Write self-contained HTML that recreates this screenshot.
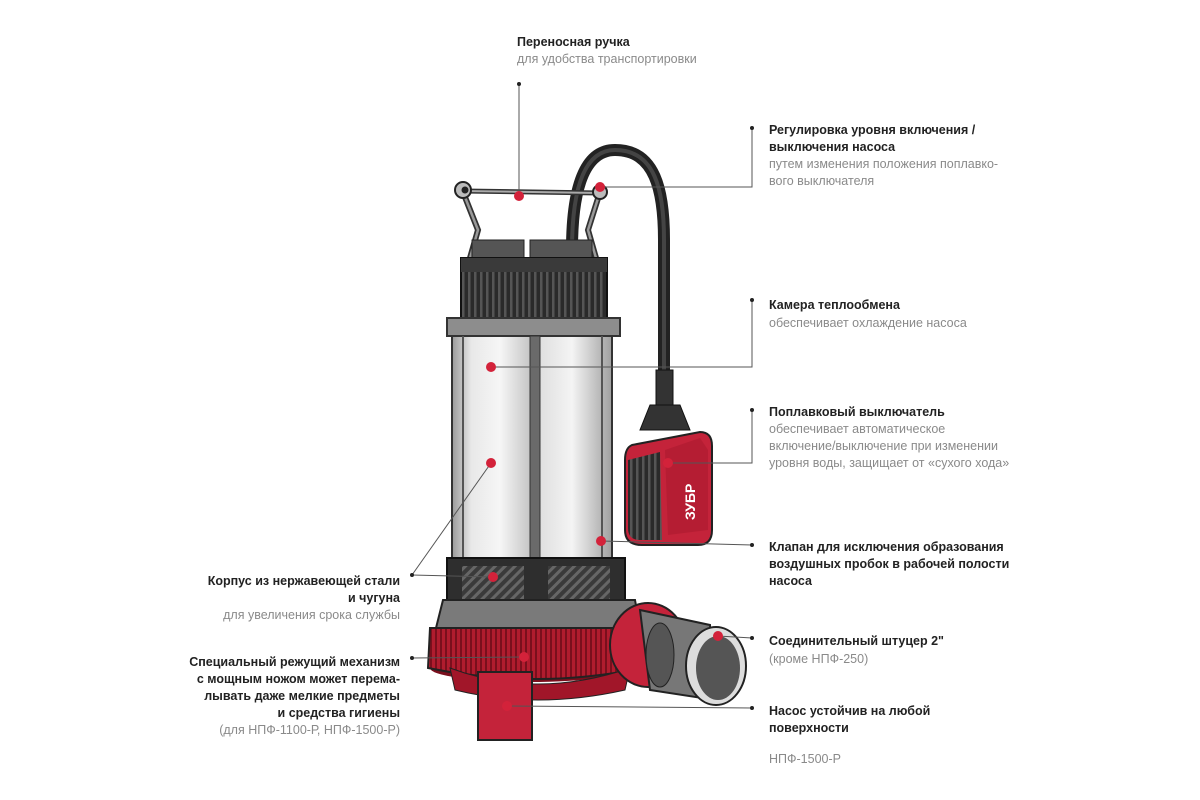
<!DOCTYPE html>
<html><head><meta charset="utf-8"><style>
html,body{margin:0;padding:0;background:#fff;}
svg{display:block}
text{font-family:"Liberation Sans","DejaVu Sans",sans-serif;font-size:12.5px}
.b{font-weight:bold;fill:#222}
.g{fill:#8a8a8a}
</style></head><body>
<svg width="1200" height="800" viewBox="0 0 1200 800" xmlns="http://www.w3.org/2000/svg">
<defs>
<linearGradient id="steel" x1="0" x2="1">
<stop offset="0" stop-color="#9a9a9a"/><stop offset="0.12" stop-color="#e8e8e8"/><stop offset="0.3" stop-color="#f6f6f6"/><stop offset="0.48" stop-color="#c8c8c8"/><stop offset="0.52" stop-color="#dcdcdc"/><stop offset="0.75" stop-color="#f4f4f4"/><stop offset="1" stop-color="#a0a0a0"/>
</linearGradient>
<pattern id="hatch" width="7" height="7" patternUnits="userSpaceOnUse" patternTransform="rotate(45)">
<rect width="7" height="7" fill="#3a3a3a"/><rect width="3" height="7" fill="#666"/></pattern>
<pattern id="ribs" width="6" height="10" patternUnits="userSpaceOnUse">
<rect width="6" height="10" fill="#2a2a2a"/><rect width="2.5" height="10" fill="#555"/></pattern>
<pattern id="redribs" width="5" height="10" patternUnits="userSpaceOnUse">
<rect width="5" height="10" fill="#b01c2e"/><rect width="2" height="10" fill="#7a0f1d"/></pattern>
</defs>

<!-- cable -->
<path d="M572 250 C572 200 580 150 615 150 C655 150 664 190 664 240 L664 380" fill="none" stroke="#222" stroke-width="12"/>
<path d="M572 250 C572 200 580 150 615 150 C655 150 664 190 664 240 L664 380" fill="none" stroke="#444" stroke-width="4"/>
<rect x="656" y="370" width="17" height="40" fill="#333" stroke="#111"/>
<path d="M650 405 L680 405 L690 430 L640 430 Z" fill="#333" stroke="#111"/>
<!-- float -->
<path d="M632 445 L700 432 Q712 432 712 446 L712 530 Q712 545 698 545 L642 545 Q625 545 625 530 L625 460 Q625 448 632 445Z" fill="#c4233a" stroke="#222" stroke-width="2"/>
<path d="M628 460 L660 452 L662 540 L640 540 Q628 540 628 528Z" fill="url(#ribs)"/>
<path d="M665 450 L700 438 L708 450 L708 530 L668 535 Z" fill="#b51d33"/>
<text x="0" y="0" transform="translate(695,520) rotate(-90)" style="font-size:14px;font-weight:bold;fill:#fff">ЗУБР</text>

<!-- handle -->
<path d="M463 192 L478 230 L470 258 M600 192 L588 230 L596 258" fill="none" stroke="#333" stroke-width="6"/>
<path d="M463 192 L478 230 L470 258 M600 192 L588 230 L596 258" fill="none" stroke="#999" stroke-width="2.5"/>
<line x1="463" y1="191" x2="600" y2="193" stroke="#333" stroke-width="5"/>
<line x1="463" y1="191" x2="600" y2="193" stroke="#aaa" stroke-width="2"/>
<circle cx="463" cy="190" r="8" fill="#bbb" stroke="#222" stroke-width="2"/><circle cx="465" cy="190" r="3.5" fill="#222"/>
<circle cx="600" cy="192" r="7" fill="#bbb" stroke="#222" stroke-width="2"/>
<!-- caps -->
<rect x="472" y="240" width="52" height="20" fill="#555" stroke="#222"/>
<rect x="530" y="240" width="62" height="20" fill="#555" stroke="#222"/>
<!-- motor top -->
<rect x="461" y="258" width="146" height="62" fill="url(#ribs)" stroke="#111" stroke-width="2"/>
<rect x="461" y="258" width="146" height="14" fill="#3a3a3a"/>
<!-- flange -->
<rect x="447" y="318" width="173" height="18" fill="#8d8d8d" stroke="#333" stroke-width="2"/>
<!-- steel body -->
<rect x="452" y="336" width="160" height="226" fill="url(#steel)" stroke="#333" stroke-width="2"/>
<rect x="530" y="336" width="10" height="226" fill="#6a6a6a" stroke="#333"/>
<line x1="463" y1="336" x2="463" y2="562" stroke="#555" stroke-width="2"/>
<line x1="602" y1="336" x2="602" y2="562" stroke="#555" stroke-width="2"/>
<!-- hatched band -->
<rect x="447" y="558" width="178" height="48" fill="#2e2e2e" stroke="#111" stroke-width="2"/>
<rect x="462" y="566" width="62" height="36" fill="url(#hatch)"/>
<rect x="548" y="566" width="62" height="36" fill="url(#hatch)"/>
<!-- grey base -->
<path d="M443 600 L635 600 L640 628 L436 628 Z" fill="#7a7a7a" stroke="#222" stroke-width="2"/>
<!-- red disc -->
<ellipse cx="530" cy="668" rx="100" ry="14" fill="#7a0f1d"/>
<path d="M430 628 L640 628 L642 668 Q536 690 428 668 Z" fill="url(#redribs)" stroke="#222" stroke-width="2"/>
<path d="M450 668 Q536 700 630 668 L625 690 Q536 710 455 690Z" fill="#a11629" stroke="#222"/>
<!-- foot -->
<rect x="478" y="672" width="54" height="68" fill="#c4233a" stroke="#222" stroke-width="2"/>
<!-- outlet -->
<ellipse cx="648" cy="645" rx="38" ry="42" fill="#c4233a" stroke="#222" stroke-width="2"/>
<path d="M640 610 L710 625 L715 700 L650 690 Z" fill="#777" stroke="#222" stroke-width="2"/>
<ellipse cx="660" cy="655" rx="14" ry="32" fill="#555" stroke="#222"/>
<ellipse cx="716" cy="666" rx="30" ry="39" fill="#ddd" stroke="#222" stroke-width="2"/>
<ellipse cx="718" cy="668" rx="22" ry="32" fill="#555"/>

<!-- connectors -->
<g stroke="#555" stroke-width="1" fill="none">
<polyline points="519,84 519,196"/>
<polyline points="752,128 752,187 600,187"/>
<polyline points="752,300 752,367 491,367"/>
<polyline points="752,410 752,463 668,463"/>
<line x1="752" y1="545" x2="601" y2="541"/>
<line x1="752" y1="638" x2="718" y2="636"/>
<line x1="752" y1="708" x2="507" y2="706"/>
<line x1="412" y1="575" x2="491" y2="463"/>
<line x1="412" y1="575" x2="493" y2="577"/>
<line x1="412" y1="658" x2="524" y2="657"/>
</g>
<g fill="#222">
<circle cx="519" cy="84" r="2"/><circle cx="752" cy="128" r="2"/><circle cx="752" cy="300" r="2"/><circle cx="752" cy="410" r="2"/><circle cx="752" cy="545" r="2"/><circle cx="752" cy="638" r="2"/><circle cx="752" cy="708" r="2"/><circle cx="412" cy="575" r="2"/><circle cx="412" cy="658" r="2"/>
</g>
<g fill="#d3223a">
<circle cx="519" cy="196" r="5"/><circle cx="600" cy="187" r="5"/><circle cx="491" cy="367" r="5"/><circle cx="491" cy="463" r="5"/><circle cx="668" cy="463" r="5"/><circle cx="601" cy="541" r="5"/><circle cx="493" cy="577" r="5"/><circle cx="524" cy="657" r="5"/><circle cx="718" cy="636" r="5"/><circle cx="507" cy="706" r="5"/>
</g>

<!-- labels -->
<text x="517" y="46" class="b">Переносная ручка</text>
<text x="517" y="63" class="g">для удобства транспортировки</text>

<text x="769" y="134" class="b">Регулировка уровня включения /</text>
<text x="769" y="151" class="b">выключения насоса</text>
<text x="769" y="168" class="g">путем изменения положения поплавко-</text>
<text x="769" y="185" class="g">вого выключателя</text>

<text x="769" y="309" class="b">Камера теплообмена</text>
<text x="769" y="327" class="g">обеспечивает охлаждение насоса</text>

<text x="769" y="416" class="b">Поплавковый выключатель</text>
<text x="769" y="433" class="g">обеспечивает автоматическое</text>
<text x="769" y="450" class="g">включение/выключение при изменении</text>
<text x="769" y="467" class="g">уровня воды, защищает от «сухого хода»</text>

<text x="769" y="551" class="b">Клапан для исключения образования</text>
<text x="769" y="568" class="b">воздушных пробок в рабочей полости</text>
<text x="769" y="585" class="b">насоса</text>

<text x="769" y="645" class="b">Соединительный штуцер 2"</text>
<text x="769" y="663" class="g">(кроме НПФ-250)</text>

<text x="769" y="715" class="b">Насос устойчив на любой</text>
<text x="769" y="732" class="b">поверхности</text>
<text x="769" y="763" class="g">НПФ-1500-Р</text>

<g text-anchor="end">
<text x="400" y="585" class="b">Корпус из нержавеющей стали</text>
<text x="400" y="602" class="b">и чугуна</text>
<text x="400" y="619" class="g">для увеличения срока службы</text>
<text x="400" y="666" class="b">Специальный режущий механизм</text>
<text x="400" y="683" class="b">с мощным ножом может перема-</text>
<text x="400" y="700" class="b">лывать даже мелкие предметы</text>
<text x="400" y="717" class="b">и средства гигиены</text>
<text x="400" y="734" class="g">(для НПФ-1100-Р, НПФ-1500-Р)</text>
</g>
</svg>
</body></html>
